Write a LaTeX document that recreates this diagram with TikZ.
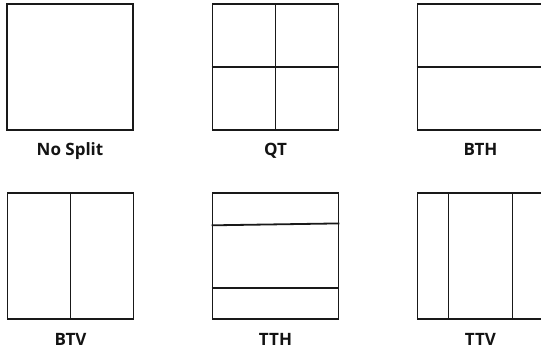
\documentclass[tikz,border=0pt]{standalone}
\usepackage{fontspec}
\setmainfont{Open Sans}
\usepackage{tikz}
\usetikzlibrary{positioning, calc}

\begin{document}
\begin{tikzpicture}[
    x=1pt, y=-1pt,
    blk/.style={draw=gray!20!black, line width=1.8pt, minimum width=126pt, minimum height=126pt, inner sep=0pt},
    cut/.style={draw=gray!20!black, line width=1.8pt},
    lbl/.style={font=\fontsize{17}{20}\selectfont\bfseries, text=gray!15!black, inner sep=0pt, anchor=base}]
  \clip (0,0) rectangle (541,351);
  % top row
  \node[blk] (nosplit) at (70,67) {};
  \node[blk] (qt) at (275.5,67) {};
  \node[blk] (bth) at (480.5,67) {};
  % bottom row
  \node[blk] (btv) at (70.5,256) {};
  \node[blk] (tth) at (275.5,256) {};
  \node[blk] (ttv) at (480.5,256) {};
  % labels
  \node[lbl, below=25pt of nosplit.south, anchor=base] (nosplitlbl) {No Split};
  \node[lbl, below=25pt of qt.south, anchor=base] (qtlbl) {QT};
  \node[lbl, below=25pt of bth.south, anchor=base] (bthlbl) {BTH};
  \node[lbl, below=26pt of btv.south, anchor=base] (btvlbl) {BTV};
  \node[lbl, below=26pt of tth.south, anchor=base] (tthlbl) {TTH};
  \node[lbl, below=26pt of ttv.south, anchor=base] (ttvlbl) {TTV};
  % splits
  \draw[cut] (qt.north) -- (qt.south);
  \draw[cut] (qt.west) -- (qt.east);
  \draw[cut] (bth.west) -- (bth.east);
  \draw[cut] (btv.north) -- (btv.south);
  \draw[cut] ($(tth.north west)!0.26!(tth.south west)$) -- ($(tth.north east)!0.245!(tth.south east)$);
  \draw[cut] ($(tth.north west)!0.75!(tth.south west)$) -- ($(tth.north east)!0.75!(tth.south east)$);
  \draw[cut] ($(ttv.north west)!0.25!(ttv.north east)$) -- ($(ttv.south west)!0.25!(ttv.south east)$);
  \draw[cut] ($(ttv.north west)!0.75!(ttv.north east)$) -- ($(ttv.south west)!0.75!(ttv.south east)$);
\end{tikzpicture}
\end{document}
